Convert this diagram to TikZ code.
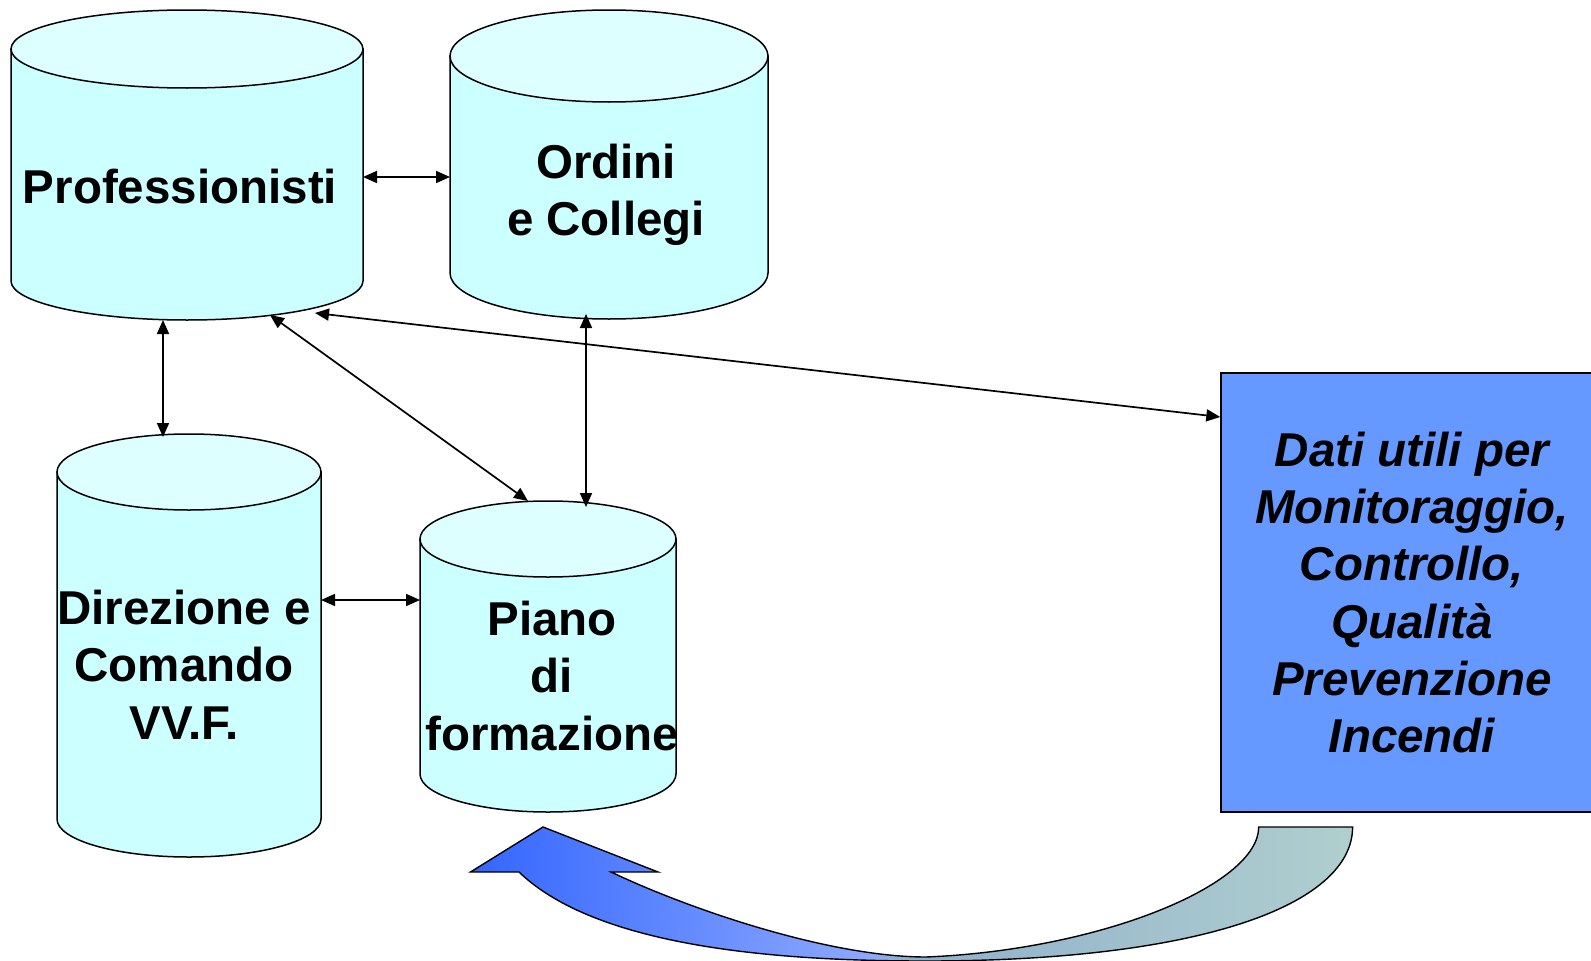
\documentclass[tikz,border=0pt]{standalone}
\usepackage{fontspec}
\setmainfont{Liberation Sans}
\usetikzlibrary{arrows.meta,calc}
\definecolor{cyltop}{RGB}{221,255,255}
\definecolor{cylbody}{RGB}{204,255,255}
\definecolor{datibox}{RGB}{102,153,255}
\pgfdeclarehorizontalshading{curvedshade}{100bp}{rgb(0bp)=(0.2,0.4,1); rgb(25bp)=(0.2,0.4,1); rgb(47.6bp)=(0.55,0.66,1); rgb(49.4bp)=(0.56,0.69,0.8); rgb(75bp)=(0.69,0.81,0.81); rgb(100bp)=(0.69,0.81,0.81)}
\begin{document}
\begin{tikzpicture}[x=1pt,y=-1pt,
  cylline/.style={draw=black, line width=1.5pt},
  anchorbox/.style={inner sep=0pt, outer sep=0pt},
  cyltext/.style={align=center, font=\fontsize{47.5}{57.5}\selectfont\bfseries, inner sep=0pt},
  conn/.style={<->, >={Triangle[length=14pt,width=12pt]}, line width=1.7pt},
  datistyle/.style={draw=black, line width=1.4pt, fill=datibox, minimum width=382pt, minimum height=439pt, inner sep=0pt, align=center, font=\fontsize{47.5}{57.2}\selectfont\bfseries\itshape}
]
\useasboundingbox (0,0) rectangle (1591,961);
\clip (0,0) rectangle (1591,961);

% Professionisti
\draw[cylline, fill=cylbody] (11,49) -- (11,281) arc[start angle=180,end angle=0,x radius=176,y radius=39] -- (363,49) -- cycle;
\draw[cylline, fill=cyltop] (187,49) ellipse[x radius=176,y radius=39];
\node[anchorbox, minimum width=352pt, minimum height=310pt] (prof) at (187,165) {};
\node[cyltext] (proftext) at (180,187) {Professionisti};

% Ordini e Collegi
\draw[cylline, fill=cylbody] (450,56) -- (450,273) arc[start angle=180,end angle=0,x radius=159,y radius=46] -- (768,56) -- cycle;
\draw[cylline, fill=cyltop] (609,56) ellipse[x radius=159,y radius=46];
\node[anchorbox, minimum width=318pt, minimum height=309pt] (ordini) at (609,164.5) {};
\node[cyltext] (ordinitext) at (606,195) {Ordini\\e Collegi};

% Direzione e Comando VV.F.
\draw[cylline, fill=cylbody] (57,472) -- (57,819) arc[start angle=180,end angle=0,x radius=132,y radius=38] -- (321,472) -- cycle;
\draw[cylline, fill=cyltop] (189,472) ellipse[x radius=132,y radius=38];
\node[anchorbox, minimum width=264pt, minimum height=423pt] (dir) at (189,645.5) {};
\node[cyltext] (dirtext) at (184,664.5) {Direzione e\\Comando\\VV.F.};

% Piano di formazione
\draw[cylline, fill=cylbody] (420,539) -- (420,774) arc[start angle=180,end angle=0,x radius=128,y radius=38] -- (676,539) -- cycle;
\draw[cylline, fill=cyltop] (548,539) ellipse[x radius=128,y radius=38];
\node[anchorbox, minimum width=256pt, minimum height=311pt] (piano) at (548,656.5) {};
\node[cyltext] (pianotext) at (552,676) {Piano\\di\\formazione};

% Dati box
\node[datistyle] (dati) at (1412,592.5) {Dati utili per\\Monitoraggio,\\Controllo,\\Qualità\\Prevenzione\\Incendi};

% connectors
\draw[conn] ([yshift=-12pt]prof.east) -- ([yshift=-12.5pt]ordini.west);
\draw[conn] ([xshift=-24pt]prof.south) -- ([xshift=-26pt,yshift=-3pt]dir.north);
\draw[conn] ([xshift=83pt,yshift=5pt]prof.south) -- ([xshift=-20pt]piano.north);
\draw[conn] ([xshift=-23pt,yshift=5pt]ordini.south) -- ([xshift=38pt,yshift=-6pt]piano.north);
\draw[conn] ([xshift=128pt,yshift=7pt]prof.south) -- ([yshift=175.5pt]dati.west);
\draw[conn] ([yshift=45.5pt]dir.east) -- ([yshift=56.5pt]piano.west);

% curved arrow back to Piano di formazione
\shadedraw[shading=curvedshade, draw=black, line width=1.4pt, line join=miter]
  (543,827) -- (658,872) -- (611,872)
  .. controls (691,910) and (830,957) .. (926,957)
  .. controls (1100,950) and (1258.7,885) .. (1258.7,827)
  -- (1352.6,827)
  .. controls (1352.6,905) and (1200,961) .. (926,961)
  .. controls (790,961) and (600,950) .. (519,872)
  -- (470.5,872) -- cycle;
\end{tikzpicture}
\end{document}
